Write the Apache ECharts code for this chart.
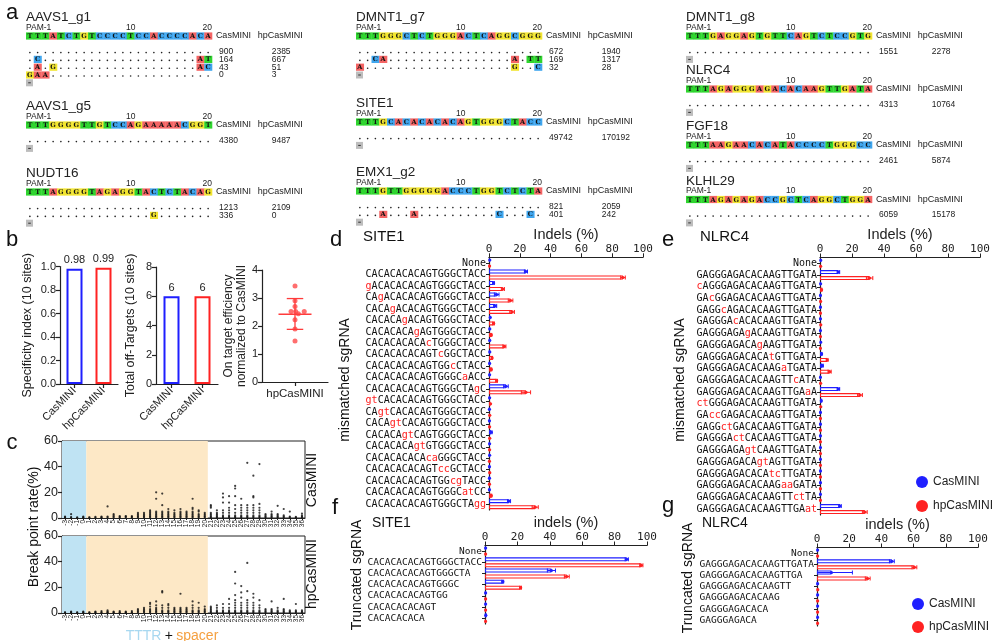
<!DOCTYPE html>
<html><head><meta charset="utf-8">
<script src="https://cdn.jsdelivr.net/npm/echarts@6/dist/echarts.min.js"></script>
<style>html,body{margin:0;padding:0;background:#fff}#c{width:992px;height:641px}</style>
</head><body><div id="c"></div>
<script>
// ================= DATA =================
// panel a
const siteNames = ['AAVS1_g1','AAVS1_g5','NUDT16','DMNT1_g7','SITE1','EMX1_g2','DMNT1_g8','NLRC4','FGF18','KLHL29'];
const refSeqs = ['TTTATCTGTCCCCTCCACCCCACA','TTTGGGGTTGTCCAGAAAAACGGT','TTTAGGGGTAGAGGTACTCTACAG',
  'TTTGGGCTCTGGGACTCAGGCGGG','TTTGCACACACACAGTGGGCTACC','TTTGTTGGGGGACCCTGGTCTCTA',
  'TTTGAGGAGTGTTCAGTCTCCGTG','TTTAGAGGGAGACACAAGTTGATA','TTTAAGAACACATACCCCTGGGCC','TTTAGAGAGACCGCTCAGGCTGGA'];
const mmRows = [
  ['........................','.C....................AT','.A.G..................AC','GAA.....................'],
  ['........................'],
  ['........................','................G.......'],
  ['........................','..CA................A.TT','A...................G..C'],
  ['........................'],
  ['........................','...A...A..........C...C.'],
  ['........................'],['........................'],['........................'],['........................']];
const casCounts = [[900,164,43,0],[4380],[1213,336],[672,169,32],[49742],[821,401],[1551],[4313],[2461],[6059]];
const hpCounts  = [[2385,667,51,3],[9487],[2109,0],[1940,1317,28],[170192],[2059,242],[2278],[10764],[5874],[15178]];
const pamLabels = ['PAM-1','10','20'];

// panel b
const bGroups = ['CasMINI','hpCasMINI'];
const specIndex = [0.98, 0.99];
const offTargets = [6, 6];
const effGroup = ['hpCasMINI'];
const effX = [1.0, 1.0, 1.0, 0.88, 1.02, 1.28, 1.1, 1.0, 1.0, 1.0];
const effY = [3.43, 2.90, 2.70, 2.52, 2.52, 2.52, 2.44, 2.22, 1.89, 1.46];
const effMeanSd = [2.42, 1.88, 2.98];

// panel c
const bpPositions = ['-3','-2','-1','0','1','2','3','4','5','6','7','8','9','10','11','12','13','14','15','16','17','18','19','20','21','22','23','24','25','26','27','28','29','30','31','32','33','34','35','36'];
const bpRegions = [['-3','0'],['1','20']];
const bpCas = [[0.3,0.6,1],[0.3,0.7,3],[0.2,0.5],[0.3,0.6,1],[0.3,0.6],[0.3,0.8],[0.3,0.6,1],[0.5,1,9],[0.5,1,2,3],[0.3,0.8,1.5],
  [0.5,1,1.5],[0.3,0.8,1.5],[0.5,1,2,3,4],[0.5,1,2,3,4],[0.5,1,2,3,4,5,6],[0.5,1,2,3,4,5,15,20],[0.5,1,2,3,4,5,10,19],[0.5,1,2,3,4,5,7],[0.5,1,2,3,4,6],[0.5,1,2,3,4,5,7],
  [0.5,1,2,3,4,5],[0.5,1,2,3,4,5,7,8,15],[0.5,1,2,3,5,6],[0.5,1,2,3,4],[0.5,1,2,3,4,8,9,10],[0.5,1,2,3,4,6],[0.5,1,2,4,6,12,16,19],[0.5,1,2,4,6,8,12,17],[0.5,1,2,4,7,10,17,23,25],[0.5,1,2,4,6,8,10,15],
  [0.5,1,2,4,6,8,10,43],[0.5,1,2,4,6,8,10,16,17,33],[0.5,1,2,4,6,8,11,42],[0.5,1,2,3],[0.5,1,2,3,5],[0.5,1,2,3,9.5],[0.5,1,2,7],[0.5,1,5],[0.3,0.8],[0.5,1,2,3.5]];
const bpHp = [[0.3,0.6],[0.3,0.6,1],[0.3,0.6],[0.3,0.6,1],[0.3,0.6],[0.3,0.6,1],[0.3,0.6,1.5],[0.3,0.6,1,2],[0.3,0.6,1],[0.3,0.6,1.5],
  [0.3,0.6,1],[0.3,0.6,1.5],[0.5,1,2,3],[0.5,1,2,3,4],[0.5,1,2,3,5,7,8],[0.5,1,2,3,4,6,9],[0.5,1,2,4,6,16,17],[0.5,1,2,4,6,7],[0.5,1,2,3,4],[0.5,1,2,3,4,15],
  [0.5,1,2,3,4],[0.5,1,2,4,6,9],[0.5,1,2,4,8],[0.5,1,2,3,5],[0.5,1,2,3,4,5],[0.5,1,2,4,6],[0.5,1,2,4,7],[0.5,1,2,4,7,11],[0.5,1,2,4,6,8,10,14,23,32],[0.5,1,2,4,6,8,12,16,21],
  [0.5,1,2,4,6,8,10,17,39],[0.5,1,2,4,6,8,12,15],[0.5,1,2,4,6,10],[0.5,1,2,3],[0.5,1,2,3,9],[0.5,1,2,4],[0.5,1,2,3,11],[0.5,1,2],[0.5,1,2,7],[0.5,1,2]];

// panel d (SITE1 mismatched)
const dLabels = ['None','CACACACACAGTGGGCTACC','gACACACACAGTGGGCTACC','CAgACACACAGTGGGCTACC','CACAgACACAGTGGGCTACC','CACACAgACAGTGGGCTACC','CACACACAgAGTGGGCTACC','CACACACACAcTGGGCTACC','CACACACACAGTcGGCTACC','CACACACACAGTGGcCTACC','CACACACACAGTGGGCaACC','CACACACACAGTGGGCTAgC','gtCACACACAGTGGGCTACC','CAgtCACACAGTGGGCTACC','CACAgtCACAGTGGGCTACC','CACACAgtCAGTGGGCTACC','CACACACAgtGTGGGCTACC','CACACACACAcaGGGCTACC','CACACACACAGTccGCTACC','CACACACACAGTGGcgTACC','CACACACACAGTGGGCatCC','CACACACACAGTGGGCTAgg'];
const dCas = [0.5,24,3,5,4,0.8,0.5,0.5,0.5,0.4,0.4,11,0.4,0.3,0.3,1.5,0.4,0.4,0.3,0.3,0.3,13];
const dHp  = [0.4,87,9,14,15,3,1.5,10,2,1.5,5,24,1,0.5,0.4,0.5,0.4,0.3,0.5,0.3,1.5,30];
const dCasErr = [0,1,0.5,1.5,1,0,0,0,0,0,0,1.5,0,0,0,0.5,0,0,0,0,0,1];
const dHpErr  = [0,1.5,1,1.5,1.5,0.5,0.3,1,0.3,0.3,0.5,3,0,0,0,0,0,0,0,0,0.3,2];
// panel e (NLRC4 mismatched)
const eLabels = ['None','GAGGGAGACACAAGTTGATA','cAGGGAGACACAAGTTGATA','GAcGGAGACACAAGTTGATA','GAGGcAGACACAAGTTGATA','GAGGGAcACACAAGTTGATA','GAGGGAGAgACAAGTTGATA','GAGGGAGACAgAAGTTGATA','GAGGGAGACACAtGTTGATA','GAGGGAGACACAAGaTGATA','GAGGGAGACACAAGTTcATA','GAGGGAGACACAAGTTGAaA','ctGGGAGACACAAGTTGATA','GAccGAGACACAAGTTGATA','GAGGctGACACAAGTTGATA','GAGGGActCACAAGTTGATA','GAGGGAGAgtCAAGTTGATA','GAGGGAGACAgtAGTTGATA','GAGGGAGACACAtcTTGATA','GAGGGAGACACAAGaaGATA','GAGGGAGACACAAGTTctTA','GAGGGAGACACAAGTTGAat'];
const eCas = [0.5,11.5,0.4,0.3,0.3,0.3,0.3,0.5,1,1.5,0.3,11.5,0.8,0.3,0.3,0.3,0.3,0.3,0.3,0.3,0.3,12.5];
const eHp  = [0.4,31,1,0.4,0.3,0.5,0.3,0.3,4.5,6,0.4,25,0.5,0.3,0.3,0.3,0.3,0.3,0.3,0.3,0.3,28];
const eCasErr = [0,0.8,0,0,0,0,0,0,0.3,0.5,0,0.8,0.3,0,0,0,0,0,0,0,0,0.8];
const eHpErr  = [0,2,0.3,0,0,0,0,0,0.5,1,0,1.5,0,0,0,0,0,0,0,0,0,1.5];
// panel f (SITE1 truncated)
const fLabels = ['None','CACACACACAGTGGGCTACC','CACACACACAGTGGGCTA','CACACACACAGTGGGC','CACACACACAGTGG','CACACACACAGT','CACACACACA'];
const fCas = [0.4,87.5,41,11,0.4,0.4,0.5];
const fHp  = [0.4,96.5,50.5,22,0.4,0.4,0.4];
const fCasErr = [0,1,2.5,0.5,0,0,0.3];
const fHpErr  = [0,1,1.5,0.5,0,0,0];
// panel g (NLRC4 truncated)
const gLabels = ['None','GAGGGAGACACAAGTTGATA','GAGGGAGACACAAGTTGA','GAGGGAGACACAAGTT','GAGGGAGACACAAG','GAGGGAGACACA','GAGGGAGACA'];
const gCas = [0.4,46.5,9,0.4,0.4,0.4,0.4];
const gHp  = [0.4,60.5,31.5,0.5,0.4,0.4,0.4];
const gCasErr = [0,1.5,13,0,0,0,0];
const gHpErr  = [0,1.5,1.5,0,0,0,0];

// ================= STYLE / LAYOUT =================
const BLUE = '#1f1fff', RED = '#ff2222', INK = '#222';
const SANS = 'Liberation Sans', MONO = 'DejaVu Sans Mono';
const ntColor = {T:'#2fd52f', A:'#f46464', C:'#3fa6ef', G:'#f2e530'};
const grids = [], xAxes = [], yAxes = [], series = [];
function addCart(g, x, y){
  const gi = grids.length; grids.push(Object.assign({outerBoundsMode:'none'}, g));
  const xi = xAxes.length; xAxes.push(Object.assign({gridIndex:gi}, x));
  const yi = yAxes.length; yAxes.push(Object.assign({gridIndex:gi}, y));
  return {gi, xi, yi};
}
const axLine = {show:true, lineStyle:{color:INK, width:1.2}};
const axTick = {show:true, length:4, lineStyle:{color:INK, width:1.2}};

// ---------- panel a ----------
const blockPos = [[26,36],[26,125],[26,192],[356,36],[356,122],[356,191],[686,36],[686,89],[686,145],[686,199.5]];
const UNIT = 7.8, CELLW = 7.75;
function blockItems(b){
  const it = [];
  it.push({k:'title', x:0, y:-2.35, t:siteNames[b]});
  it.push({k:'small', x:0, y:-1.1, t:pamLabels[0]});
  it.push({k:'smallc', x:13.5, y:-1.1, t:pamLabels[1]});
  it.push({k:'smallc', x:23.4, y:-1.1, t:pamLabels[2]});
  refSeqs[b].split('').forEach((ch,i)=>it.push({k:'cell', x:i, y:0, t:ch}));
  it.push({k:'lab', x:24.5, y:0, t:'CasMINI'});
  it.push({k:'lab', x:29.9, y:0, t:'hpCasMINI'});
  mmRows[b].forEach((row,r)=>{
    row.split('').forEach((ch,i)=>it.push(ch==='.'?{k:'dot',x:i,y:2+r}:{k:'cell',x:i,y:2+r,t:ch}));
    it.push({k:'num', x:24.9, y:2+r, t:String(casCounts[b][r])});
    it.push({k:'num', x:31.7, y:2+r, t:String(hpCounts[b][r])});
  });
  it.push({k:'grey', x:0, y:2+mmRows[b].length});
  return it;
}
const aFonts = {title:'13.5px "'+SANS+'"', small:'8.5px "'+SANS+'"', smallc:'8.5px "'+SANS+'"', lab:'9px "'+SANS+'"', num:'8.5px "'+SANS+'"'};
function renderSeqItem(it, api){
  const p = api.coord([it.x, it.y]);
  const cw = api.size([1,0])[0];
  if (it.k==='cell') return {type:'group', children:[
    {type:'rect', shape:{x:p[0], y:p[1]-3.6, width:cw+0.3, height:7.2}, style:{fill:ntColor[it.t]}},
    {type:'text', style:{text:it.t, x:p[0]+cw/2, y:p[1]+0.4, align:'center', verticalAlign:'middle', font:'bold 6.5px "DejaVu Serif"', fill:'#111'}}]};
  if (it.k==='dot') return {type:'circle', shape:{cx:p[0]+cw/2, cy:p[1]+1, r:0.8}, style:{fill:'#222'}};
  if (it.k==='grey') return {type:'group', children:[
    {type:'rect', shape:{x:p[0], y:p[1]-3.5, width:7, height:7}, style:{fill:'#bdbdbd'}},
    {type:'rect', shape:{x:p[0]+2.2, y:p[1]-0.5, width:2.6, height:1}, style:{fill:'#333'}}]};
  return {type:'text', style:{text:it.t, x:p[0], y:p[1], align: it.k==='smallc'?'center':'left', verticalAlign:'middle', font:aFonts[it.k], fill:INK}};
}
siteNames.forEach((nm,b)=>{
  const c = addCart({left:blockPos[b][0], top:blockPos[b][1], width:24*CELLW, height:UNIT},
    {type:'value', min:0, max:24, show:false}, {type:'value', min:0, max:1, inverse:true, show:false});
  const items = blockItems(b);
  series.push({type:'custom', xAxisIndex:c.xi, yAxisIndex:c.yi, silent:true, clip:false,
    data: items.map(it=>[it.x, it.y]), renderItem:(p, api)=>renderSeqItem(items[p.dataIndex], api)});
});

// ---------- panel b ----------
function barPanel(grid, vals, yCfg){
  const c = addCart(grid,
    {type:'category', data:bGroups, axisLine:axLine, axisTick:Object.assign({alignWithLabel:true}, axTick),
     axisLabel:{rotate:45, fontSize:11, color:INK, margin:5, fontFamily:SANS}},
    Object.assign({type:'value', axisLine:axLine, axisTick:axTick, splitLine:{show:false},
     axisLabel:{fontSize:11, color:INK, fontFamily:SANS, margin:4}, nameLocation:'middle',
     nameTextStyle:{fontSize:12.5, color:INK, fontFamily:SANS}}, yCfg));
  series.push({type:'bar', xAxisIndex:c.xi, yAxisIndex:c.yi, barWidth:16,
    data: vals.map((v,i)=>({value:v, itemStyle:{borderColor: i?RED:BLUE}})),
    itemStyle:{color:'#fff', borderWidth:2},
    label:{show:true, position:'top', fontSize:11, color:INK, distance:3, fontFamily:SANS}});
}
barPanel({left:60, top:266.5, width:58, height:117.5}, specIndex,
  {min:0, max:1, interval:0.2, name:'Specificity index (10 sites)', nameGap:26, axisLabel:{fontSize:11, color:INK, fontFamily:SANS, margin:4, formatter:v=>v.toFixed(1)}});
barPanel({left:156, top:267, width:62, height:117}, offTargets,
  {min:0, max:8, interval:2, name:'Total off-Targets (10 sites)', nameGap:19});
(function(){
  const c = addCart({left:262, top:270, width:66, height:112},
    {type:'category', data:effGroup, axisLine:axLine, axisTick:Object.assign({alignWithLabel:true}, axTick),
     axisLabel:{fontSize:11.5, color:INK, margin:6, fontFamily:SANS}},
    {type:'value', min:0, max:4, interval:1, axisLine:axLine, axisTick:axTick, splitLine:{show:false},
     axisLabel:{fontSize:11, color:INK, fontFamily:SANS, margin:4},
     name:'On target efficiency\nnormalized to CasMINI', nameLocation:'middle', nameGap:14,
     nameTextStyle:{fontSize:12, lineHeight:13, color:INK, fontFamily:SANS}});
  const xv = xAxes.length; xAxes.push({gridIndex:c.gi, type:'value', min:0, max:2, show:false});
  series.push({type:'scatter', xAxisIndex:xv, yAxisIndex:c.yi, symbolSize:5, itemStyle:{color:'#ff4a4a'},
    data: effY.map((v,i)=>[effX[i], v]), z:3});
  series.push({type:'custom', xAxisIndex:xv, yAxisIndex:c.yi, data:[effMeanSd], z:4, silent:true,
    renderItem:(p, api)=>{
      const m=api.value(0), lo=api.value(1), hi=api.value(2);
      const L=(a,b)=>({type:'line', shape:{x1:a[0],y1:a[1],x2:b[0],y2:b[1]}, style:{stroke:'#ff3b3b', lineWidth:1.3}});
      return {type:'group', children:[
        L(api.coord([0.5,m]), api.coord([1.5,m])),
        L(api.coord([0.75,lo]), api.coord([1.25,lo])),
        L(api.coord([0.75,hi]), api.coord([1.25,hi])),
        L(api.coord([1,lo]), api.coord([1,hi]))]};
    }});
})();

// ---------- panel c ----------
const shadeColors = ['#bfe3f3','#fde8c6'];
[bpCas, bpHp].forEach((arr,k)=>{
  const c = addCart({left:62, top:k?536:441, width:243, height:77, show:true, borderColor:INK, borderWidth:1},
    {type:'category', data:bpPositions, axisLine:{show:true, lineStyle:{color:INK}},
     axisTick:{show:true, length:2, alignWithLabel:true, interval:0, lineStyle:{color:INK}},
     axisLabel:{interval:0, rotate:90, fontSize:6.5, margin:2, color:INK, fontFamily:SANS}},
    {type:'value', min:0, max:60, interval:20, axisLine:{show:true, lineStyle:{color:INK}}, axisTick:axTick,
     splitLine:{show:false}, axisLabel:{fontSize:12.5, color:INK, margin:4, fontFamily:SANS}});
  series.push({type:'custom', xAxisIndex:c.xi, yAxisIndex:c.yi, silent:true, z:1,
    data: bpRegions.map(r=>[bpPositions.indexOf(r[0]), bpPositions.indexOf(r[1])]),
    renderItem:(p, api)=>{
      const s=api.coord([api.value(0),0]), e=api.coord([api.value(1),0]), bw=api.size([1,0])[0];
      const cs=p.coordSys;
      return {type:'rect', shape:{x:s[0]-bw/2, y:cs.y, width:e[0]-s[0]+bw, height:cs.height}, style:{fill:shadeColors[p.dataIndex]}};
    }});
  series.push({type:'scatter', xAxisIndex:c.xi, yAxisIndex:c.yi, symbolSize:2.2, itemStyle:{color:'#111'}, z:3,
    data: arr.flatMap((vals,i)=>vals.map(v=>[i,v]))});
});

// ---------- panels d-g ----------
function seqRich(s, pad){
  if (s==='None') return '{n|None}';
  const t = pad ? s.padEnd(pad,' ') : s;
  let out='', i=0;
  while(i<t.length){
    const low = 'acgt'.includes(t[i]); let j=i;
    while(j<t.length && 'acgt'.includes(t[j])===low) j++;
    out += '{'+(low?'r':'n')+'|'+t.slice(i,j)+'}'; i=j;
  }
  return out;
}
function hbar(cfg){
  const c = addCart({left:cfg.left, top:cfg.top, width:cfg.width, height:cfg.height},
    {type:'value', position:'top', min:0, max:100, interval:20, axisLine:axLine,
     axisTick:{show:true, length:4, lineStyle:{color:INK}}, splitLine:{show:false},
     axisLabel:{fontFamily:MONO, fontSize:11, color:INK, margin:3},
     name:cfg.xname, nameLocation:'middle', nameGap:cfg.nameGap, nameTextStyle:{fontSize:14.5, color:INK, fontFamily:SANS}},
    {type:'category', inverse:true, data:cfg.labels, axisLine:axLine,
     axisTick:{show:true, length:3, alignWithLabel:true, interval:0, lineStyle:{color:INK}},
     axisLabel:{interval:0, margin:3, formatter:s=>seqRich(s, cfg.pad),
       rich:{n:{fontFamily:MONO, fontSize:cfg.fs, color:'#111'}, r:{fontFamily:MONO, fontSize:cfg.fs, color:'#ff2020'}}}});
  const sets = [['CasMINI', cfg.cas, cfg.casErr, BLUE, -3], ['hpCasMINI', cfg.hp, cfg.hpErr, RED, 3]];
  sets.forEach(([nm, vals])=>{
    series.push({type:'bar', name:nm, xAxisIndex:c.xi, yAxisIndex:c.yi, data:vals, barWidth:4, barGap:'50%',
      itemStyle:{color:'#fff', borderColor: nm==='CasMINI'?BLUE:RED, borderWidth:1.1}, z:2});
  });
  sets.forEach(([nm, vals, errs, col, off])=>{
    series.push({type:'custom', xAxisIndex:c.xi, yAxisIndex:c.yi, z:4, silent:true, encode:{x:0, y:1},
      data: vals.map((v,i)=>[v, i, errs[i]]),
      renderItem:(p, api)=>{
        const v=api.value(0), i=api.value(1), e=api.value(2);
        const pt=api.coord([v,i]); const y=pt[1]+off; const ch=[];
        if (e>0){
          const lo=api.coord([Math.max(0,v-e),i])[0], hi=api.coord([v+e,i])[0];
          ch.push({type:'line', shape:{x1:lo,y1:y,x2:hi,y2:y}, style:{stroke:col, lineWidth:1}});
          ch.push({type:'line', shape:{x1:hi,y1:y-2,x2:hi,y2:y+2}, style:{stroke:col, lineWidth:1}});
          if (v-e>0) ch.push({type:'line', shape:{x1:lo,y1:y-2,x2:lo,y2:y+2}, style:{stroke:col, lineWidth:1}});
        }
        ch.push({type:'circle', shape:{cx:pt[0], cy:y, r:1.6}, style:{fill:col}});
        return {type:'group', children:ch};
      }});
  });
}
hbar({left:489, top:257.3, width:154, height:252.6, labels:dLabels, cas:dCas, hp:dHp, casErr:dCasErr, hpErr:dHpErr, fs:10, xname:'Indels (%)', nameGap:11});
hbar({left:820, top:257.5, width:160, height:257.4, labels:eLabels, cas:eCas, hp:eHp, casErr:eCasErr, hpErr:eHpErr, fs:10, xname:'Indels (%)', nameGap:11});
hbar({left:485, top:545.5, width:162, height:78.4, labels:fLabels, cas:fCas, hp:fHp, casErr:fCasErr, hpErr:fHpErr, fs:9.5, pad:20, xname:'indels (%)', nameGap:14});
hbar({left:817, top:547.5, width:161, height:78.4, labels:gLabels, cas:gCas, hp:gHp, casErr:gCasErr, hpErr:gHpErr, fs:9.5, pad:20, xname:'indels (%)', nameGap:14});

// ---------- texts ----------
function txt(x, y, text, font, extra){
  return Object.assign({type:'text', x, y, silent:true, style:Object.assign({text, font, fill:'#111', align:'center', verticalAlign:'middle'}, extra||{})});
}
const rot = Math.PI/2;
const graphics = [
  txt(12,13,'a','22px "'+SANS+'"'), txt(12,240,'b','22px "'+SANS+'"'), txt(12,443,'c','22px "'+SANS+'"'),
  txt(336,240,'d','22px "'+SANS+'"'), txt(668,240,'e','22px "'+SANS+'"'), txt(335,508,'f','22px "'+SANS+'"'), txt(668,506,'g','22px "'+SANS+'"'),
  txt(363,237,'SITE1','15px "'+SANS+'"',{align:'left'}), txt(700,237,'NLRC4','15px "'+SANS+'"',{align:'left'}),
  txt(372,523,'SITE1','14px "'+SANS+'"',{align:'left'}), txt(702,523,'NLRC4','14px "'+SANS+'"',{align:'left'}),
  Object.assign(txt(345,380,'mismatched sgRNA','14px "'+SANS+'"'),{rotation:rot}),
  Object.assign(txt(680,380,'mismatched sgRNA','14px "'+SANS+'"'),{rotation:rot}),
  Object.assign(txt(357,575,'Truncated sgRNA','14px "'+SANS+'"'),{rotation:rot}),
  Object.assign(txt(688,578,'Truncated sgRNA','14px "'+SANS+'"'),{rotation:rot}),
  Object.assign(txt(34,527,'Break point rate(%)','14px "'+SANS+'"'),{rotation:rot}),
  Object.assign(txt(312,480,'CasMINI','14px "'+SANS+'"'),{rotation:rot}),
  Object.assign(txt(312,574,'hpCasMINI','14px "'+SANS+'"'),{rotation:rot}),
  {type:'text', x:172, y:636, silent:true, style:{text:'{a|TTTR} {b|+} {c|spacer}', align:'center', verticalAlign:'middle',
    rich:{a:{fill:'#a8d8f0', fontSize:14, fontFamily:SANS}, b:{fill:'#111', fontSize:14, fontFamily:SANS}, c:{fill:'#f5a040', fontSize:14, fontFamily:SANS}}}}
];
const legendBase = {orient:'vertical', icon:'circle', itemWidth:12, itemHeight:12, selectedMode:false, padding:0,
  textStyle:{fontSize:12, color:INK, fontFamily:SANS},
  data:[{name:'CasMINI', itemStyle:{color:BLUE, borderWidth:0}}, {name:'hpCasMINI', itemStyle:{color:RED, borderWidth:0}}]};

const chart = echarts.init(document.getElementById('c'), null, {renderer:'canvas'});
chart.setOption({
  animation:false, backgroundColor:'#fff',
  textStyle:{fontFamily:SANS},
  grid:grids, xAxis:xAxes, yAxis:yAxes, series,
  legend:[Object.assign({left:916, top:476, itemGap:12}, legendBase), Object.assign({left:912, top:598, itemGap:11, height:40}, legendBase)],
  graphic:graphics
});
</script></body></html>
